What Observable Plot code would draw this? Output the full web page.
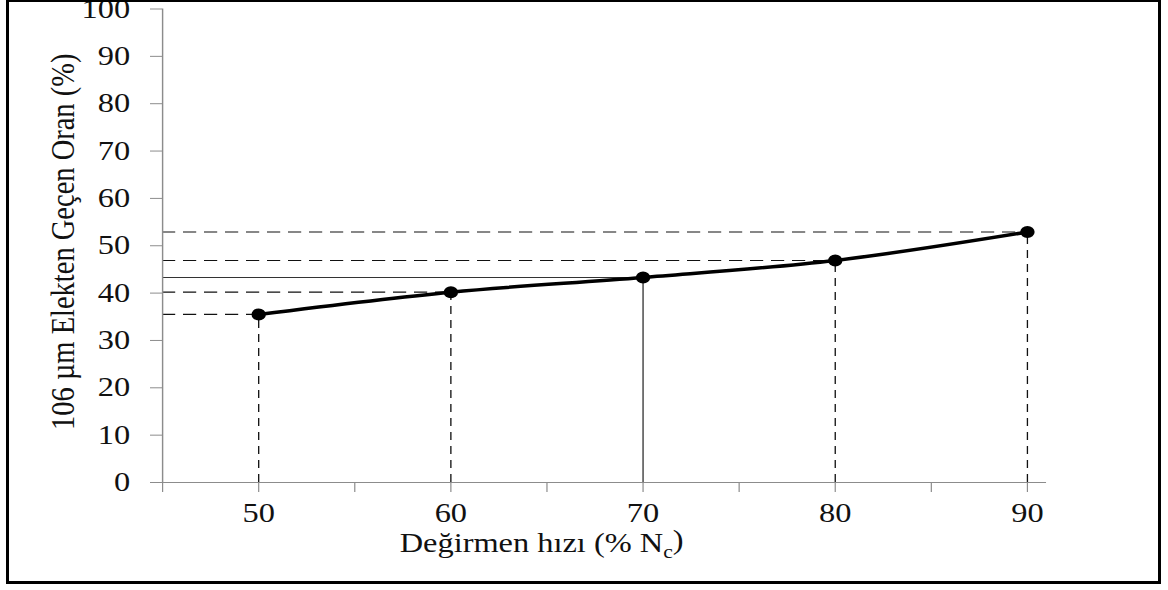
<!DOCTYPE html>
<html>
<head>
<meta charset="utf-8">
<script src="https://cdn.jsdelivr.net/npm/d3@7"></script>
<script src="https://cdn.jsdelivr.net/npm/@observablehq/plot@0.6"></script>
<style>
  html, body { margin: 0; padding: 0; background: #fff; overflow: hidden; }
  #wrap { position: relative; width: 1168px; height: 590px; }
  #frame { position: absolute; left: 6px; top: -1px; width: 1155px; height: 585px;
           box-sizing: border-box; border: 3px solid #000; pointer-events: none; }
  svg text { font-family: "Liberation Serif", serif !important; }
</style>
</head>
<body>
<div id="wrap"><div id="frame"></div></div>
<script>
// ---- data ----
const speeds  = [50, 60, 70, 80, 90];            // Değirmen hızı (% Nc)
const passing = [35.5, 40.2, 43.3, 46.9, 52.9];  // 106 µm elekten geçen oran (%)
const yTicks  = [0, 10, 20, 30, 40, 50, 60, 70, 80, 90, 100];
const xTicks  = [45, 50, 55, 60, 65, 70, 75, 80, 85, 90];
const xLabels = [50, 60, 70, 80, 90];
const xTitle  = "Değirmen hızı (% Nc)";
const yTitle  = "106 µm Elekten Geçen Oran (%)";

const data = speeds.map((s, i) => ({speed: s, value: passing[i]}));
const solidAt = 70;

const S = 1.2;                 // horizontal stretch of the original picture
const W = 1168 / S;
const H = 590;
const axisGray = "#8c8c8c";

const svg = Plot.plot({
  width: W,
  height: H,
  marginLeft: 135,
  marginRight: W - 871.7,
  marginTop: 8.5,
  marginBottom: 108,
  style: {fontFamily: "Liberation Serif, serif", fontSize: "26px", background: "white", color: "#000"},
  x: {domain: [45, 91], axis: null},
  y: {domain: [0, 100], axis: null},
  marks: [
    // guide lines
    Plot.ruleY(data.filter(d => d.speed !== solidAt), {x1: 45, x2: "speed", y: "value", stroke: "#111", strokeWidth: 1.1, strokeDasharray: "11,6.5"}),
    Plot.ruleX(data.filter(d => d.speed !== solidAt), {x: "speed", y1: 0, y2: "value", stroke: "#111", strokeWidth: 1.1, strokeDasharray: "8,6"}),
    Plot.ruleY(data.filter(d => d.speed === solidAt), {x1: 45, x2: "speed", y: "value", stroke: "#333", strokeWidth: 1.1}),
    Plot.ruleX(data.filter(d => d.speed === solidAt), {x: "speed", y1: 0, y2: "value", stroke: "#333", strokeWidth: 1.1}),
    // axes
    Plot.ruleY([0], {stroke: axisGray, strokeWidth: 1.2}),
    Plot.ruleX([45], {stroke: axisGray, strokeWidth: 1.2}),
    Plot.axisY(yTicks, {tickSize: 10, tickPadding: 17, stroke: axisGray, fill: "#111", fontSize: 27, label: null}),
    Plot.axisX(xTicks, {tickSize: 10, tickPadding: 10, stroke: axisGray, fill: "#111", fontSize: 27, label: null,
                        tickFormat: d => xLabels.includes(d) ? String(d) : ""}),
    // data
    Plot.line(data, {x: "speed", y: "value", stroke: "#000", strokeWidth: 3.5, curve: "catmull-rom"}),
    Plot.dot(data, {x: "speed", y: "value", r: 6, fill: "#000", stroke: "none"}),
    // titles
    Plot.text([yTitle], {frameAnchor: "left", dx: -83, dy: -4, rotate: -90, fontSize: 28.5, fill: "#111", textAnchor: "middle", lineAnchor: "middle"}),
    Plot.text([xTitle], {frameAnchor: "bottom", dx: -52.5, dy: 61, fontSize: 27, fill: "#111", textAnchor: "middle", lineAnchor: "middle"})
  ]
});

svg.setAttribute("viewBox", `0 0 ${W} ${H}`);
svg.setAttribute("preserveAspectRatio", "none");
svg.setAttribute("width", 1168);
svg.setAttribute("height", 590);
svg.style.width = "1168px";
svg.style.height = "590px";
svg.style.maxWidth = "none";
svg.style.display = "block";

// subscript c in the x title
d3.select(svg).selectAll("text").each(function() {
  if (this.textContent === xTitle) {
    const t = d3.select(this);
    t.text(null);
    t.append("tspan").text("Değirmen hızı (% N");
    t.append("tspan").attr("font-size", 18).attr("dy", "0.3em").text("c");
    t.append("tspan").attr("dy", "-0.3em").text(")");
  }
});

const wrap = document.getElementById("wrap");
wrap.insertBefore(svg, wrap.firstChild);
</script>
</body>
</html>
